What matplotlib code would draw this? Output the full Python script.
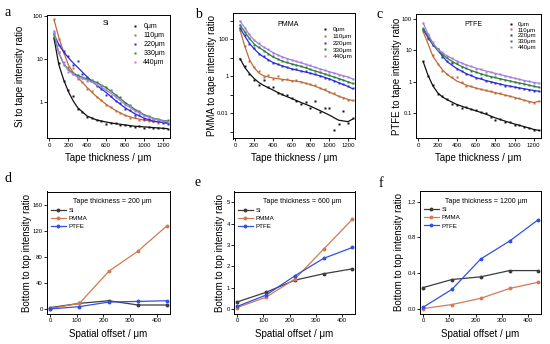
import matplotlib
matplotlib.use('Agg')
import matplotlib.pyplot as plt

plt.rcParams['font.family'] = ['Liberation Sans', 'DejaVu Sans']

# tape thickness grid of the measured points / of the fitted curves (um)
thickness = [50, 100, 150, 200, 250, 300, 350, 400, 450, 500, 550, 600, 650,
             700, 750, 800, 850, 900, 950, 1000, 1050, 1100, 1150, 1200, 1250]
fit_thickness = [50, 100, 150, 200, 250, 300, 400, 500, 600, 700, 800, 900,
                 1000, 1100, 1200, 1250]

offset_labels = ['0μm', '110μm', '220μm', '330μm', '440μm']
offset_colors = ['#111111', '#bf6a38', '#2a2ad6', '#2f7f3c', '#a47ee0']

# ---- (a) Si ----
si_pts_0 = [32, 8.0, 3.2, 1.9, 1.4, 0.7, 0.6, 0.46, 0.43, 0.4, 0.36, 0.32, 0.34,
            0.33, 0.3, 0.3, 0.29, 0.27, 0.28, 0.26, 0.27, 0.26, 0.25, 0.25, 0.24]
si_pts_110 = [85, 30, 14, 6.5, 6.2, 3.5, 3.0, 2.0, 1.8, 1.3, 1.15, 0.85, 0.8,
              0.62, 0.58, 0.52, 0.44, 0.45, 0.4, 0.4, 0.36, 0.37, 0.34, 0.35, 0.33]
si_pts_220 = [40, 21, 16, 12, 7.5, 9.0, 4.6, 3.8, 3.3, 2.4, 2.1, 1.5, 1.4,
              1.05, 0.95, 0.72, 0.66, 0.52, 0.5, 0.42, 0.41, 0.36, 0.37, 0.33, 0.32]
si_pts_330 = [33, 15, 7.5, 6.0, 4.5, 4.4, 3.6, 3.6, 3.1, 3.0, 2.4, 2.3, 1.9,
              1.45, 1.3, 0.95, 0.85, 0.68, 0.62, 0.5, 0.48, 0.42, 0.41, 0.37, 0.38]
si_pts_440 = [46, 15, 8.5, 5.2, 4.7, 3.7, 3.8, 3.2, 3.1, 2.5, 2.5, 1.9, 1.8,
              1.3, 1.2, 0.88, 0.82, 0.62, 0.6, 0.48, 0.46, 0.42, 0.4, 0.36, 0.35]
si_fit_0 = [30, 7.5, 3.4, 1.8, 1.1, 0.75, 0.48, 0.39, 0.35, 0.32, 0.30, 0.28,
            0.27, 0.26, 0.25, 0.245]
si_fit_110 = [82, 32, 15, 7.5, 5.0, 3.8, 2.2, 1.35, 0.9, 0.65, 0.5, 0.43,
              0.39, 0.36, 0.34, 0.33]
si_fit_220 = [38, 22, 15, 11, 8.3, 6.5, 3.9, 2.5, 1.7, 1.1, 0.75, 0.55,
              0.43, 0.37, 0.34, 0.33]
si_fit_330 = [35, 14, 8, 5.8, 4.8, 4.2, 3.5, 2.9, 2.2, 1.5, 1.0, 0.7,
              0.52, 0.43, 0.38, 0.37]
si_fit_440 = [45, 14, 8, 5.6, 4.5, 3.9, 3.3, 2.6, 1.95, 1.35, 0.9, 0.65,
              0.5, 0.42, 0.37, 0.36]

# ---- (b) PMMA ----
pmma_pts_0 = [9, 3.5, 1.3, 0.6, 0.35, 0.65, 0.25, 0.26, 0.13, 0.11, 0.1, 0.065,
              0.045, 0.032, 0.04, 0.02, 0.045, 0.011, 0.02, 0.018, 0.0013,
              0.0025, 0.013, 0.0028, 0.0055]
pmma_pts_110 = [330, 45, 7, 3.2, 2.0, 0.95, 1.1, 0.75, 1.0, 0.6, 0.75, 0.55, 0.6,
                0.5, 0.45, 0.38, 0.33, 0.24, 0.2, 0.14, 0.12, 0.085, 0.07, 0.055, 0.05]
pmma_pts_220 = [380, 170, 55, 33, 15, 12, 7.5, 5.0, 4.5, 3.4, 3.2, 2.5, 2.6,
                1.9, 1.8, 1.4, 1.3, 1.0, 0.8, 0.75, 0.55, 0.45, 0.36, 0.28, 0.22]
pmma_pts_330 = [600, 230, 120, 50, 38, 24, 16, 12, 8.5, 6.8, 5.5, 4.5, 4.2,
                3.5, 3.2, 2.4, 2.0, 1.6, 1.35, 1.1, 0.9, 0.72, 0.62, 0.5, 0.42]
pmma_pts_440 = [1000, 380, 190, 85, 60, 36, 28, 18, 14, 11, 9, 7.2, 6.5,
                5.5, 4.5, 3.8, 3.0, 2.4, 2.2, 1.7, 1.5, 1.2, 1.0, 0.9, 0.72]
pmma_fit_0 = [9, 3.0, 1.4, 0.75, 0.46, 0.32, 0.18, 0.1, 0.062, 0.038, 0.024,
              0.014, 0.008, 0.0042, 0.0035, 0.0048]
pmma_fit_110 = [320, 42, 8, 2.9, 1.5, 1.05, 0.8, 0.68, 0.58, 0.49, 0.35, 0.23,
                0.14, 0.083, 0.056, 0.048]
pmma_fit_220 = [400, 150, 60, 30, 17, 11, 5.5, 3.6, 2.5, 1.9, 1.45, 1.05,
                0.72, 0.45, 0.28, 0.21]
pmma_fit_330 = [580, 250, 110, 55, 35, 25, 11, 6.5, 4.6, 3.4, 2.3, 1.6,
                1.1, 0.75, 0.5, 0.4]
pmma_fit_440 = [950, 420, 170, 90, 55, 38, 19, 11, 7.5, 5.3, 3.6, 2.5,
                1.75, 1.25, 0.9, 0.72]

# ---- (c) PTFE ----
ptfe_pts_0 = [4.5, 1.5, 0.8, 0.42, 0.35, 0.28, 0.2, 0.18, 0.15, 0.16, 0.14, 0.13,
              0.11, 0.1, 0.075, 0.062, 0.064, 0.055, 0.053, 0.044, 0.044, 0.036,
              0.034, 0.029, 0.03]
ptfe_pts_110 = [40, 22, 7, 3.6, 2.2, 1.8, 1.4, 1.4, 0.95, 0.75, 0.72, 0.65, 0.58,
                0.55, 0.5, 0.44, 0.43, 0.37, 0.36, 0.31, 0.3, 0.26, 0.23, 0.22, 0.25]
ptfe_pts_220 = [47, 24, 15, 11, 6.0, 4.5, 4.0, 2.5, 2.2, 1.7, 1.6, 1.3, 1.3,
                1.05, 1.0, 0.9, 0.88, 0.75, 0.75, 0.66, 0.65, 0.58, 0.56, 0.52, 0.5]
ptfe_pts_330 = [48, 30, 15, 11, 7.2, 6.0, 4.2, 3.8, 2.9, 2.7, 2.2, 2.1, 1.75,
                1.65, 1.45, 1.4, 1.2, 1.18, 1.05, 1.0, 0.9, 0.86, 0.77, 0.73, 0.66]
ptfe_pts_440 = [75, 32, 18, 10, 8.8, 6.4, 5.6, 4.4, 4.0, 3.3, 3.1, 2.6, 2.5,
                2.1, 2.05, 1.8, 1.72, 1.5, 1.45, 1.28, 1.22, 1.08, 1.03, 0.93, 0.9]
ptfe_fit_0 = [4.3, 1.6, 0.75, 0.45, 0.33, 0.27, 0.19, 0.15, 0.12, 0.095, 0.072,
              0.057, 0.046, 0.038, 0.031, 0.029]
ptfe_fit_110 = [38, 16, 6.5, 3.8, 2.4, 1.7, 1.05, 0.78, 0.63, 0.53, 0.45, 0.38,
                0.32, 0.26, 0.22, 0.24]
ptfe_fit_220 = [45, 25, 15, 10, 6.5, 4.3, 2.6, 1.8, 1.35, 1.1, 0.92, 0.78,
                0.68, 0.6, 0.53, 0.5]
ptfe_fit_330 = [50, 28, 16, 10.5, 7.5, 5.5, 3.6, 2.6, 2.0, 1.6, 1.35, 1.15,
                0.98, 0.85, 0.72, 0.67]
ptfe_fit_440 = [72, 33, 17, 11, 8.3, 6.6, 4.5, 3.4, 2.7, 2.2, 1.85, 1.55,
                1.3, 1.1, 0.95, 0.9]

# ---- (d)-(f) bottom to top ratio vs spatial offset ----
spatial_offset = [0, 110, 220, 330, 440]
materials = ['Si', 'PMMA', 'PTFE']
material_colors = ['#3c3c3c', '#d27a52', '#3050e6']
t200_si = [2.5, 9, 13, 6.5, 6.5]
t200_pmma = [1, 9, 58, 89, 128]
t200_ptfe = [0.5, 4, 11, 12, 13]
t600_si = [0.33, 0.78, 1.35, 1.65, 1.88]
t600_pmma = [0.07, 0.55, 1.4, 2.8, 4.2]
t600_ptfe = [0.12, 0.65, 1.55, 2.37, 2.88]
t1200_si = [0.24, 0.33, 0.36, 0.43, 0.43]
t1200_pmma = [0.005, 0.05, 0.12, 0.23, 0.30]
t1200_ptfe = [0.02, 0.22, 0.56, 0.76, 1.0]

W, H = 550, 344
fig = plt.figure(figsize=(W / 100, H / 100), dpi=100)


def rect(left, top, right, bottom):
    return [left / W, 1 - bottom / H, (right - left) / W, (bottom - top) / H]


def style(ax):
    for side in ['left', 'right', 'top', 'bottom']:
        ax.spines[side].set_linewidth(0.7)
    ax.tick_params(direction='out', length=2, width=0.6, pad=1,
                   labelsize=4.3, top=False, right=False)
    ax.minorticks_off()


def top_panel(box, pts, fits, name, ylabel, ylim, yticks, yticklabels,
              leg_anchor, leg_font, leg_spacing, name_pos, ylab_x):
    ax = fig.add_axes(rect(*box))
    for p, f, c, lab in zip(pts, fits, offset_colors, offset_labels):
        ax.plot(fit_thickness, f, '-', color=c, lw=0.9)
        ax.plot(thickness, p, 's', ms=1.5, color=c, mec='none', label=lab)
    ax.set_yscale('log')
    ax.set_ylim(*ylim)
    ax.set_xlim(-25, 1275)
    ax.set_xticks([0, 200, 400, 600, 800, 1000, 1200])
    ax.set_yticks(yticks)
    ax.set_yticklabels(yticklabels)
    style(ax)
    ax.set_xlabel('Tape thickness / μm', fontsize=7)
    ax.set_ylabel(ylabel, fontsize=7)
    ax.xaxis.set_label_coords(0.5, -0.115)
    ax.yaxis.set_label_coords(ylab_x, 0.5)
    ax.text(name_pos[0], name_pos[1], name, transform=ax.transAxes,
            fontsize=5, ha='center', va='center')
    ax.legend(loc='upper right', bbox_to_anchor=leg_anchor, frameon=False,
              fontsize=leg_font, handlelength=0.5, handletextpad=1.0,
              labelspacing=leg_spacing, borderaxespad=0, borderpad=0,
              markerscale=1.1)
    return ax


def bottom_panel(box, series, title, ylim, yticks, yticklabels, ylab_x, title_x):
    ax = fig.add_axes(rect(*box))
    for vals, c, lab in zip(series, material_colors, materials):
        ax.plot(spatial_offset, vals, '-o', color=c, lw=0.9, ms=1.8, label=lab)
    ax.set_xlim(-12, 450)
    ax.set_ylim(*ylim)
    ax.set_xticks([0, 100, 200, 300, 400])
    ax.set_yticks(yticks)
    ax.set_yticklabels(yticklabels)
    style(ax)
    ax.set_xlabel('Spatial offset / μm', fontsize=7)
    ax.set_ylabel('Bottom to top intensity ratio', fontsize=7)
    ax.xaxis.set_label_coords(0.5, -0.13)
    ax.yaxis.set_label_coords(ylab_x, 0.5)
    ax.text(title_x, 0.915, title, transform=ax.transAxes, fontsize=5,
            ha='center', va='center')
    ax.legend(loc='upper left', bbox_to_anchor=(0.035, 0.87), frameon=False,
              fontsize=4.5, handlelength=2.3, handletextpad=0.5,
              labelspacing=0.45, borderaxespad=0, borderpad=0)
    return ax


top_panel((47, 15, 170, 138.5),
          [si_pts_0, si_pts_110, si_pts_220, si_pts_330, si_pts_440],
          [si_fit_0, si_fit_110, si_fit_220, si_fit_330, si_fit_440],
          'Si', 'Si to tape intensity ratio', (0.145, 107),
          [1, 10, 100], ['1', '10', '100'], (0.96, 0.935), 5, 0.3,
          (0.48, 0.935), -0.18)

top_panel((233, 13, 355, 138.5),
          [pmma_pts_0, pmma_pts_110, pmma_pts_220, pmma_pts_330, pmma_pts_440],
          [pmma_fit_0, pmma_fit_110, pmma_fit_220, pmma_fit_330, pmma_fit_440],
          'PMMA', 'PMMA to tape intensity ratio', (4.3e-4, 2600),
          [1e-3, 1e-2, 1e-1, 1, 10, 100, 1000], ['', '0.01', '', '1', '', '100', ''],
          (0.98, 0.89), 4.6, 0.2, (0.45, 0.91), -0.13)

top_panel((416, 13.5, 541, 138.5),
          [ptfe_pts_0, ptfe_pts_110, ptfe_pts_220, ptfe_pts_330, ptfe_pts_440],
          [ptfe_fit_0, ptfe_fit_110, ptfe_fit_220, ptfe_fit_330, ptfe_fit_440],
          'PTFE', 'PTFE to tape intensity ratio', (0.016, 145),
          [0.1, 1, 10, 100], ['0.1', '1', '10', '100'],
          (0.965, 0.935), 4.3, 0.1, (0.46, 0.91), -0.11)

bottom_panel((47, 191.5, 170, 313.5), [t200_si, t200_pmma, t200_ptfe],
             'Tape thickness = 200 μm', (-6.5, 180), [0, 40, 80, 120, 160],
             ['0', '40', '80', '120', '160'], -0.125, 0.53)
bottom_panel((234, 191.5, 355, 313.5), [t600_si, t600_pmma, t600_ptfe],
             'Tape thickness = 600 μm', (-0.21, 5.5), [0, 1, 2, 3, 4, 5],
             ['0', '1', '2', '3', '4', '5'], -0.075, 0.56)
bottom_panel((420, 191, 541, 313.5), [t1200_si, t1200_pmma, t1200_ptfe],
             'Tape thickness = 1200 μm', (-0.05, 1.32), [0.0, 0.4, 0.8, 1.2],
             ['0.0', '0.4', '0.8', '1.2'], -0.13, 0.55)

for letter, x, y in [('a', 8, 13), ('b', 198, 14), ('c', 380, 15),
                     ('d', 8, 178), ('e', 198, 183), ('f', 381, 184)]:
    fig.text(x / W, 1 - y / H, letter, fontsize=10, ha='center', va='center',
             family='Liberation Serif')

fig.savefig('out.png', dpi=100)
